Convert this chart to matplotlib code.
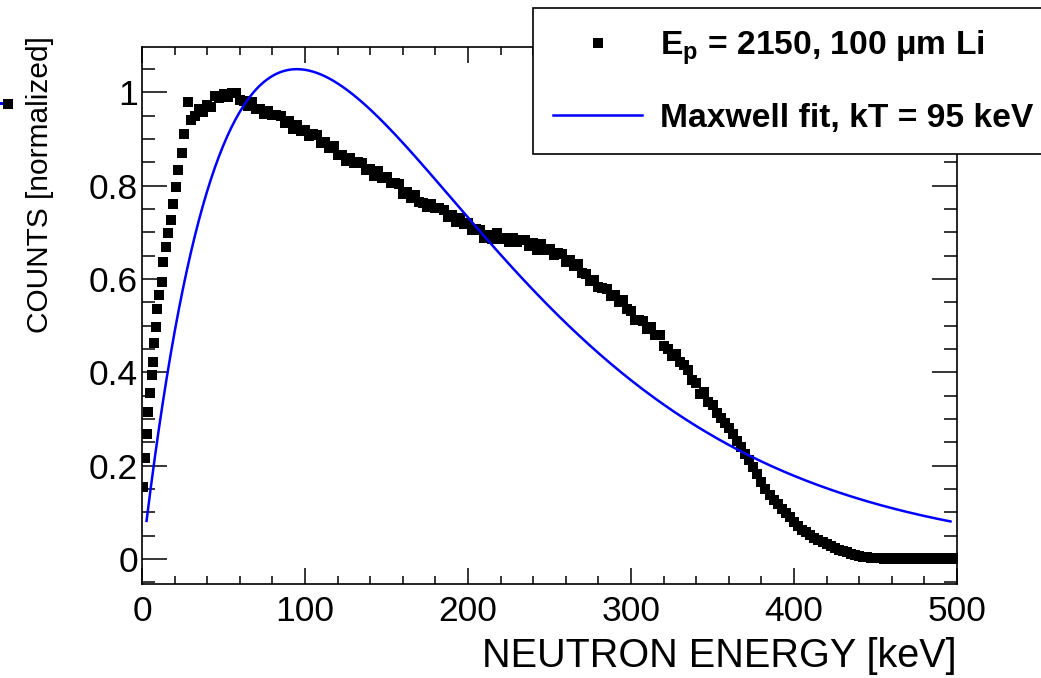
import numpy as np
import matplotlib
matplotlib.use("Agg")
import matplotlib.pyplot as plt
from matplotlib.lines import Line2D
from matplotlib.ticker import MultipleLocator

plt.rcParams['font.family'] = ['Liberation Sans', 'DejaVu Sans']
plt.rcParams['mathtext.default'] = 'regular'

# measured spectrum: rising edge read point by point
energy_edge = [0.8, 1.8, 2.9, 3.9, 4.9, 5.9, 6.5, 7.4, 8.4, 9.4, 10.6, 12.1,
               13.1, 14.7, 16.1, 17.6, 19.2, 20.9, 22.3, 24.4, 26.0, 28.4]
counts_edge = [0.155, 0.216, 0.269, 0.316, 0.355, 0.394, 0.423, 0.462, 0.498,
               0.535, 0.566, 0.594, 0.637, 0.669, 0.698, 0.727, 0.762, 0.798,
               0.834, 0.870, 0.912, 0.980]

# rest of the spectrum, 2.5 keV bins from 30 to 500 keV
energy_bins = np.arange(30.0, 500.1, 2.5)
counts_bins = [
    0.940, 0.950, 0.964, 0.958, 0.973, 0.969, 0.992, 0.988, 0.997, 0.990,
    0.998, 0.999, 0.983, 0.982, 0.971, 0.980, 0.965, 0.964, 0.954, 0.961,
    0.951, 0.952, 0.950, 0.935, 0.938, 0.922, 0.931, 0.917, 0.919, 0.906,
    0.910, 0.908, 0.891, 0.893, 0.881, 0.885, 0.867, 0.865, 0.854, 0.860,
    0.849, 0.850, 0.848, 0.833, 0.836, 0.821, 0.832, 0.817, 0.819, 0.805,
    0.807, 0.803, 0.783, 0.786, 0.774, 0.781, 0.766, 0.764, 0.754, 0.761,
    0.752, 0.752, 0.749, 0.734, 0.738, 0.722, 0.732, 0.719, 0.721, 0.706,
    0.708, 0.705, 0.688, 0.694, 0.686, 0.698, 0.686, 0.688, 0.680, 0.689,
    0.680, 0.684, 0.684, 0.671, 0.677, 0.663, 0.675, 0.662, 0.665, 0.652,
    0.655, 0.654, 0.637, 0.640, 0.628, 0.633, 0.614, 0.610, 0.596, 0.599,
    0.583, 0.581, 0.578, 0.563, 0.566, 0.550, 0.555, 0.536, 0.531, 0.513,
    0.513, 0.511, 0.494, 0.498, 0.481, 0.480, 0.457, 0.450, 0.436, 0.439,
    0.423, 0.416, 0.406, 0.383, 0.378, 0.353, 0.357, 0.336, 0.330, 0.314,
    0.303, 0.292, 0.280, 0.267, 0.253, 0.240, 0.226, 0.212, 0.197, 0.182,
    0.166, 0.151, 0.138, 0.127, 0.117, 0.108, 0.099, 0.090, 0.080, 0.071,
    0.063, 0.057, 0.051, 0.046, 0.041, 0.036, 0.032, 0.028, 0.024, 0.020,
    0.017, 0.014, 0.011, 0.009, 0.007, 0.005, 0.004, 0.003, 0.002, 0.002,
    0.001, 0.002, 0.001, 0.002, 0.001, 0.002, 0.001, 0.002, 0.001, 0.002,
    0.001, 0.002, 0.001, 0.002, 0.001, 0.002, 0.001, 0.002, 0.001,
]

energy = np.concatenate([energy_edge, energy_bins])
counts = np.concatenate([counts_edge, counts_bins])

# Maxwell fit  N * E * exp(-E/kT), peak height 1.05 at E = kT
kT = 95.0
fit_peak = 1.05
fit_range = (2.8, 496.0)

e_fit = np.linspace(fit_range[0], fit_range[1], 600)
fit = fit_peak * (e_fit / kT) * np.exp(1.0 - e_fit / kT)

W, H = 1041, 678
fig = plt.figure(figsize=(W / 100, H / 100), dpi=100)
ax = fig.add_axes([142 / W, 1 - 584 / H, (957 - 142) / W, (584 - 47) / H])

pts, = ax.plot(energy, counts, 's', color='black', markersize=7.6,
               markeredgewidth=0, label=r'E$_{p}$ = 2150, 100 $\mu$m Li')
fl, = ax.plot(e_fit, fit, '-', color='#0000ff', linewidth=1.8,
              label='Maxwell fit, kT = 95 keV')

ax.set_xlim(0, 500)
ax.set_ylim(-0.0536, 1.0975)
ax.xaxis.set_major_locator(MultipleLocator(100))
ax.xaxis.set_minor_locator(MultipleLocator(20))
ax.yaxis.set_minor_locator(MultipleLocator(0.05))
ax.set_yticks([0, 0.2, 0.4, 0.6, 0.8, 1.0])
ax.set_yticklabels(['0', '0.2', '0.4', '0.6', '0.8', '1'])

ax.tick_params(axis='x', which='both', direction='in', top=True, bottom=True,
               labelsize=25.5, pad=8, width=1.1)
ax.tick_params(axis='x', which='major', length=11.5)
ax.tick_params(axis='x', which='minor', length=6)
ax.tick_params(axis='y', which='both', direction='in', left=True, right=True,
               labelsize=25.5, pad=3, width=1.1)
ax.tick_params(axis='y', which='major', length=18)
ax.tick_params(axis='y', which='minor', length=9.4)
for s in ax.spines.values():
    s.set_linewidth(1.2)

fig.text(957 / W, 1 - 656 / H, 'NEUTRON ENERGY [keV]', ha='right', va='center',
         fontsize=28.5)
fig.text(40 / W, 1 - 36 / H, 'COUNTS [normalized]', rotation=90, ha='center',
         va='top', fontsize=21.5)

leg = fig.legend(handles=[pts, fl], loc='upper left',
                 bbox_to_anchor=(533 / W, 1 - 8 / H),
                 prop={'weight': 'bold', 'size': 24.2}, frameon=True,
                 fancybox=False, edgecolor='black', framealpha=1,
                 borderpad=0.6, handlelength=2.65, handletextpad=0.54,
                 labelspacing=1.08, borderaxespad=0, markerscale=0.95)
leg.get_frame().set_linewidth(1.2)

# pieces of the neighbouring panel showing at the left edge
fig.add_artist(Line2D([0, 6 / W], [1 - 103 / H, 1 - 103 / H], color='#0000ff',
                      linewidth=2.2))
fig.add_artist(Line2D([8 / W], [1 - 104 / H], marker='s', color='black',
                      markersize=7, markeredgewidth=0))

fig.savefig('out.png', dpi=100)
